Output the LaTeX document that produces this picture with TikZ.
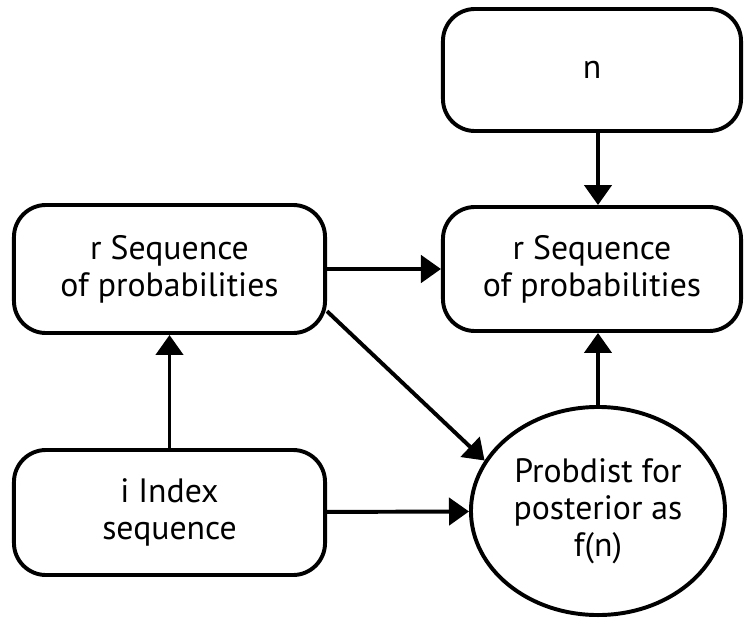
\documentclass[tikz,border=0pt]{standalone}
\usepackage{fontspec}
\setmainfont{PT Sans}
\usetikzlibrary{arrows.meta,shapes.geometric}

\begin{document}
\begin{tikzpicture}[x=0.025cm,y=-0.025cm,
            txt/.style={align=center,inner sep=0pt,font=\fontsize{24}{26.3}\selectfont},
            box/.style={txt,draw,line width=2.8pt,rounded corners=0.8cm},
            arr/.style={line width=2.8pt,-{Triangle[length=0.5cm,width=0.68cm]}}]
            \useasboundingbox (0,0) rectangle (746,621);
            \node [box,minimum width=7.45cm,minimum height=3.05cm] (nbox) at (592,70) {n};
            \node [box,minimum width=7.45cm,minimum height=3.1cm] (rright) at (592,269) {r Sequence\\of probabilities};
            \node [box,minimum width=7.775cm,minimum height=3.2cm] (rleft) at (169.5,269) {r Sequence\\of probabilities};
            \node [box,minimum width=7.775cm,minimum height=3.125cm] (idx) at (169.5,512.5) {i Index\\sequence};
            \node [txt,draw,ellipse,line width=2.8pt,minimum width=6.35cm,minimum height=5.2cm] (post) at (598,511) {Probdist for\\posterior as\\f(n)};
            \draw [arr] (nbox.south -| post) -- (rright.north -| post);
            \draw [arr] (rleft) -- (rright);
            \draw [arr] (rleft.-15) -- (post.156);
            \draw [arr] (idx) -- (rleft);
            \draw [arr] (idx) -- (post);
            \draw [arr] (post) -- (rright.south -| post);
        \end{tikzpicture}
\end{document}
